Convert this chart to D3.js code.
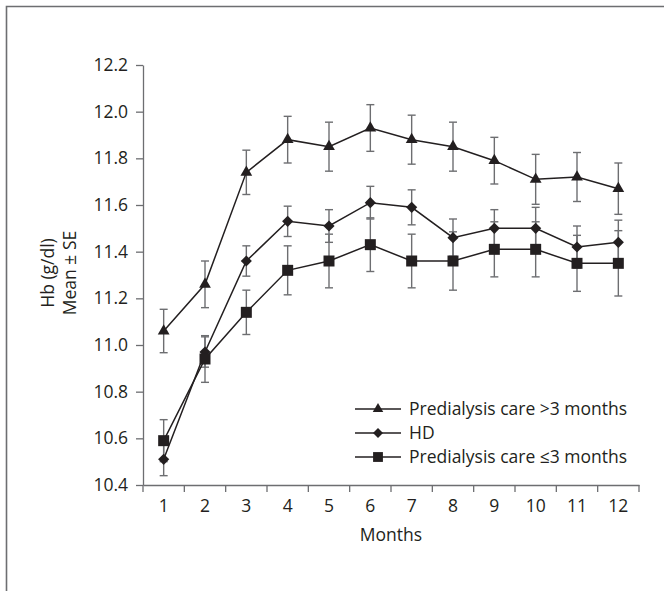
<!DOCTYPE html>
<html>
<head>
<meta charset="utf-8">
<script src="https://cdn.jsdelivr.net/npm/d3@7"></script>
<style>
  body { margin: 0; background: #fff; }
  svg text { font-family: "Open Sans", sans-serif; fill: #231f20; }
</style>
</head>
<body>
<div class="chart"></div>
<script>
// values
var months = [1, 2, 3, 4, 5, 6, 7, 8, 9, 10, 11, 12];
var yTicks = [10.4, 10.6, 10.8, 11.0, 11.2, 11.4, 11.6, 11.8, 12.0, 12.2];

var longMean = [11.06, 11.26, 11.74, 11.88, 11.85, 11.93, 11.88, 11.85, 11.79, 11.71, 11.72, 11.67];
var longSE   = [0.093, 0.10, 0.095, 0.10, 0.105, 0.10, 0.105, 0.105, 0.10, 0.107, 0.105, 0.11];

var hdMean = [10.51, 10.97, 11.36, 11.53, 11.51, 11.61, 11.59, 11.46, 11.50, 11.50, 11.42, 11.44];
var hdSE   = [0.07, 0.065, 0.065, 0.065, 0.07, 0.07, 0.075, 0.08, 0.08, 0.09, 0.09, 0.095];

var shortMean = [10.59, 10.94, 11.14, 11.32, 11.36, 11.43, 11.36, 11.36, 11.41, 11.41, 11.35, 11.35];
var shortSE   = [0.09, 0.10, 0.095, 0.105, 0.115, 0.115, 0.115, 0.125, 0.118, 0.118, 0.12, 0.14];

var seriesNames = ["Predialysis care >3 months", "HD", "Predialysis care \u22643 months"];

var svgWidth = 664, svgHeight = 591;
var margin = { top: 65, right: 25, bottom: 106, left: 143 };
var width = svgWidth - margin.left - margin.right;
var height = svgHeight - margin.top - margin.bottom;
var fontSize = "17.5px";

var svg = d3.select(".chart").append("svg")
  .attr("width", svgWidth)
  .attr("height", svgHeight);

// outer frame (runs off right and bottom)
svg.append("path")
  .attr("d", "M6.5,600 L6.5,6.5 L680,6.5")
  .attr("fill", "none")
  .attr("stroke", "#6d6e71")
  .attr("stroke-width", 1.6);

var chartGroup = svg.append("g")
  .attr("transform", `translate(${margin.left}, ${margin.top})`);

var x = d3.scaleBand().domain(months).range([0, width]).padding(0);
var y = d3.scaleLinear().domain([10.4, 12.2]).range([height, 0]);

// y axis
var leftAxis = d3.axisLeft(y).tickValues(yTicks).tickFormat(d3.format(".1f"))
  .tickSize(7).tickSizeOuter(0).tickPadding(8);
var yg = chartGroup.append("g").call(leftAxis);
yg.select(".domain").attr("stroke", "#6d6e71").attr("stroke-width", 1.3);
yg.selectAll(".tick line").attr("stroke", "#6d6e71").attr("stroke-width", 1.3);
yg.selectAll(".tick text").attr("font-size", fontSize).attr("fill", "#231f20")
  .style("font-family", "'Open Sans', sans-serif");

// x axis: labels centred in bands, ticks at band edges
var bottomAxis = d3.axisBottom(x).tickSize(0).tickPadding(15);
var xg = chartGroup.append("g").attr("transform", `translate(0,${height})`).call(bottomAxis);
xg.select(".domain").attr("stroke", "#6d6e71").attr("stroke-width", 1.3);
xg.selectAll(".tick text").attr("font-size", fontSize).attr("fill", "#231f20")
  .style("font-family", "'Open Sans', sans-serif");
xg.selectAll("line.edge")
  .data(months.concat([13]))
  .enter().append("line")
  .attr("class", "edge")
  .attr("x1", d => d <= 12 ? x(d) : x(12) + x.bandwidth())
  .attr("x2", d => d <= 12 ? x(d) : x(12) + x.bandwidth())
  .attr("y1", 0).attr("y2", 7)
  .attr("stroke", "#6d6e71").attr("stroke-width", 1.3);

// axis titles
chartGroup.append("text")
  .attr("x", width / 2).attr("y", height + 56)
  .attr("text-anchor", "middle").attr("font-size", fontSize)
  .text("Months");

var yt = chartGroup.append("text")
  .attr("transform", `translate(${-89}, ${height / 2 - 2})rotate(-90)`)
  .attr("text-anchor", "middle").attr("font-size", fontSize);
yt.append("tspan").attr("x", 0).attr("dy", 0).text("Hb (g/dl)");
yt.append("tspan").attr("x", 0).attr("dy", 22).text("Mean \u00b1 SE");

// series
var series = [
  { name: seriesNames[0], mean: longMean, se: longSE, symbol: d3.symbolTriangle, size: 60, rot: 0 },
  { name: seriesNames[1], mean: hdMean, se: hdSE, symbol: d3.symbolSquare, size: 62, rot: 45 },
  { name: seriesNames[2], mean: shortMean, se: shortSE, symbol: d3.symbolSquare, size: 121, rot: 0 }
];
var cx = m => x(m) + x.bandwidth() / 2;

// error bars
series.forEach(function(s) {
  var g = chartGroup.append("g").attr("stroke", "#6d6e71").attr("stroke-width", 1.4);
  months.forEach(function(m, i) {
    var hi = y(s.mean[i] + s.se[i]), lo = y(s.mean[i] - s.se[i]);
    g.append("line").attr("x1", cx(m)).attr("x2", cx(m)).attr("y1", hi).attr("y2", lo);
    g.append("line").attr("x1", cx(m) - 4).attr("x2", cx(m) + 4).attr("y1", hi).attr("y2", hi);
    g.append("line").attr("x1", cx(m) - 4).attr("x2", cx(m) + 4).attr("y1", lo).attr("y2", lo);
  });
});

// lines
var line = d3.line().x(d => cx(d[0])).y(d => y(d[1]));
series.forEach(function(s) {
  chartGroup.append("path")
    .datum(months.map((m, i) => [m, s.mean[i]]))
    .attr("d", line)
    .attr("fill", "none")
    .attr("stroke", "#231f20")
    .attr("stroke-width", 1.5);
});

// markers
series.forEach(function(s) {
  chartGroup.selectAll(null)
    .data(months.map((m, i) => [m, s.mean[i]]))
    .enter().append("path")
    .attr("d", d3.symbol().type(s.symbol).size(s.size))
    .attr("transform", d => `translate(${cx(d[0])},${y(d[1])})rotate(${s.rot})`)
    .attr("fill", "#231f20");
});

// legend
var legend = svg.append("g").attr("transform", "translate(355, 409)");
series.forEach(function(s, i) {
  var row = legend.append("g").attr("transform", `translate(0, ${i * 24})`);
  row.append("line").attr("x1", 0).attr("x2", 46).attr("y1", 0).attr("y2", 0)
    .attr("stroke", "#231f20").attr("stroke-width", 1.5);
  row.append("path")
    .attr("d", d3.symbol().type(s.symbol).size(s.size * 0.8))
    .attr("transform", `translate(23,0)rotate(${s.rot})`)
    .attr("fill", "#231f20");
  row.append("text").attr("x", 54).attr("y", 0).attr("dy", "0.35em")
    .attr("font-size", fontSize).text(s.name);
});
</script>
</body>
</html>
